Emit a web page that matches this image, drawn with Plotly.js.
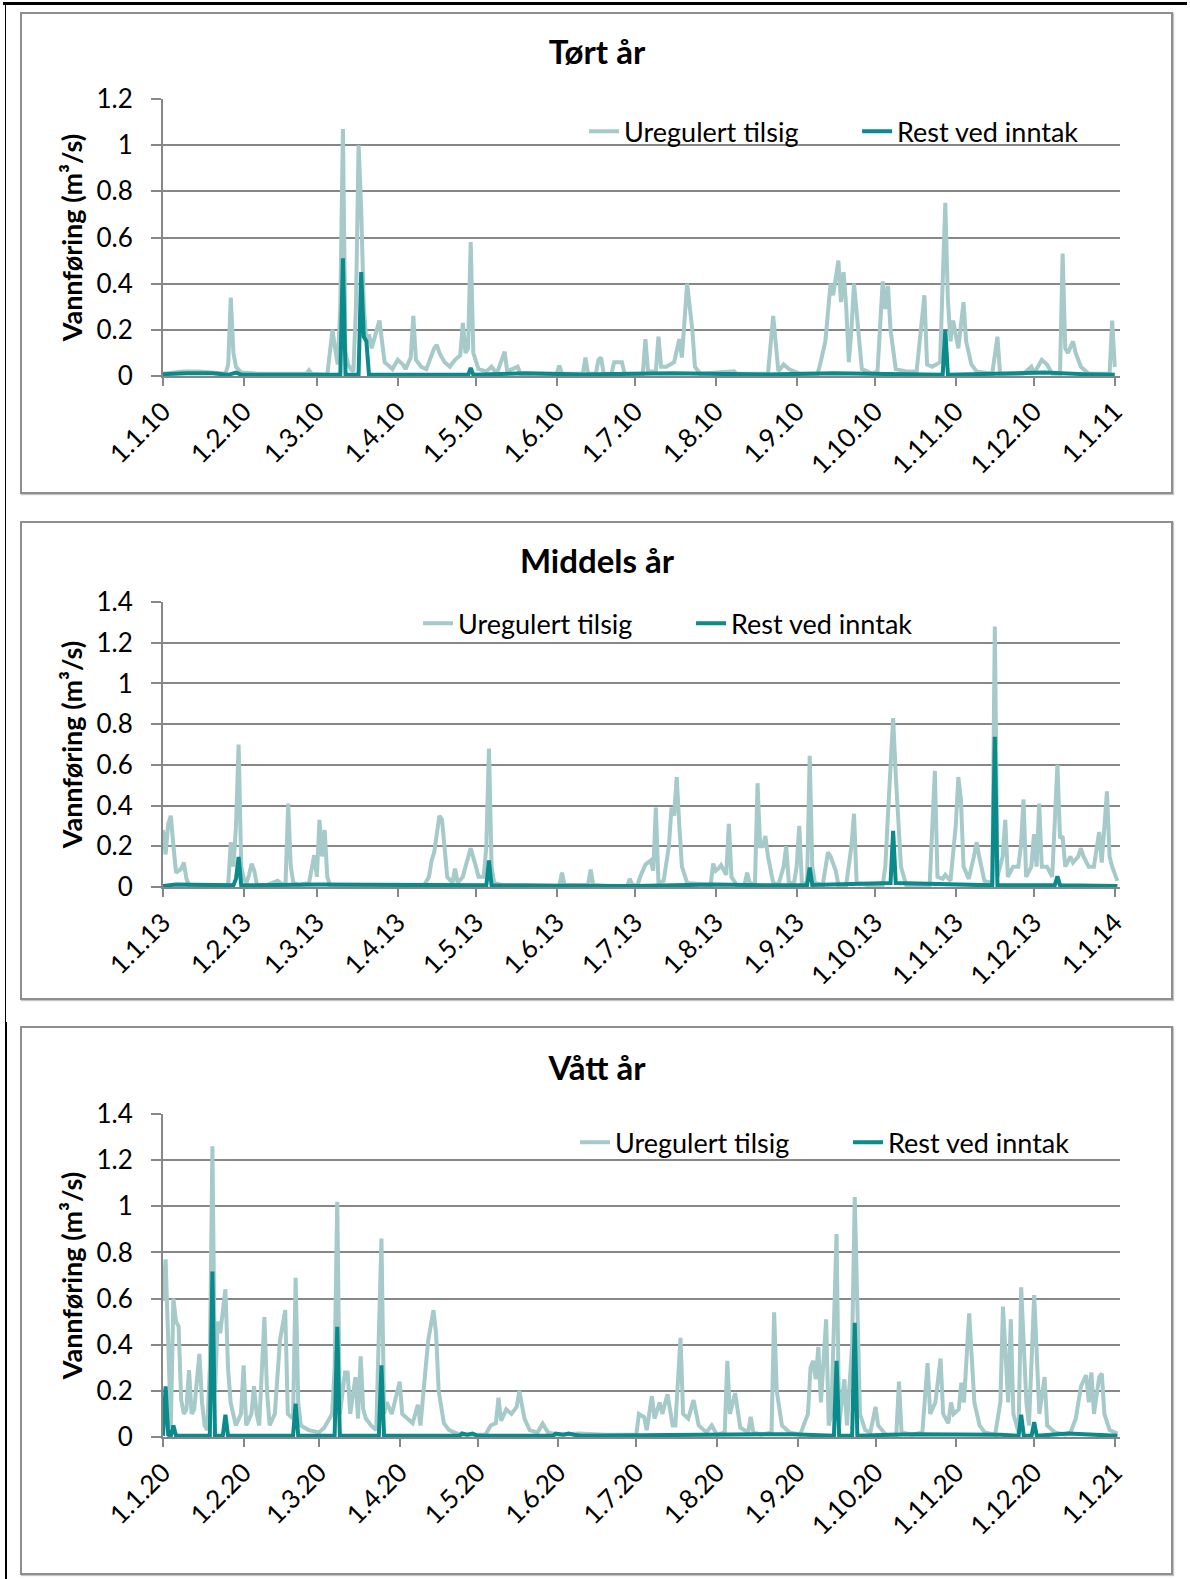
<!DOCTYPE html>
<html><head><meta charset="utf-8">
<script src="https://cdn.plot.ly/plotly-3.0.1.min.js"></script>
<style>
body{margin:0;background:#fff;width:1190px;height:1579px;position:relative;overflow:hidden;}
.box{position:absolute;left:20px;width:1149px;border:2px solid #8e8e8e;box-shadow:1px 1px 1px #c4c4c4;}
.plot{position:absolute;left:0;width:1190px;}
.rule{position:absolute;background:#000;}
</style></head><body>
<div class="rule" style="left:3px;top:2px;width:1184px;height:3px"></div>
<div class="rule" style="left:5px;top:2px;width:1px;height:1020px"></div>
<div class="rule" style="left:5px;top:1022px;width:2px;height:557px"></div>
<div class="box" style="top:12px;height:478px"></div>
<div class="box" style="top:521px;height:475px"></div>
<div class="box" style="top:1026px;height:545px"></div>
<div id="p1" class="plot" style="top:12px;height:482px"></div>
<div id="p2" class="plot" style="top:521px;height:479px"></div>
<div id="p3" class="plot" style="top:1026px;height:549px"></div>
<script>
// ---------- Tørt år (2010) ----------
const dryInflowDates = [
 '2010-01-01','2010-01-09','2010-01-15','2010-01-21','2010-01-25','2010-01-26','2010-01-27','2010-01-28','2010-01-29','2010-01-31',
 '2010-02-06','2010-02-15','2010-02-25','2010-02-26','2010-02-27',
 '2010-03-05','2010-03-07','2010-03-08','2010-03-09','2010-03-10','2010-03-11','2010-03-12','2010-03-13','2010-03-14','2010-03-15','2010-03-16','2010-03-17','2010-03-18','2010-03-19','2010-03-20','2010-03-21','2010-03-22','2010-03-24','2010-03-25','2010-03-26','2010-03-27','2010-03-28','2010-03-30',
 '2010-04-01','2010-04-03','2010-04-04','2010-04-06','2010-04-07','2010-04-08','2010-04-10','2010-04-12','2010-04-15','2010-04-16','2010-04-17','2010-04-19','2010-04-21','2010-04-23','2010-04-25','2010-04-26','2010-04-27','2010-04-28','2010-04-29','2010-04-30',
 '2010-05-02','2010-05-05','2010-05-07','2010-05-09','2010-05-12','2010-05-13','2010-05-17','2010-05-18','2010-05-26',
 '2010-06-01','2010-06-02','2010-06-03','2010-06-11','2010-06-12','2010-06-13','2010-06-16','2010-06-17','2010-06-18','2010-06-19','2010-06-22','2010-06-23','2010-06-26','2010-06-27',
 '2010-07-04','2010-07-05','2010-07-06','2010-07-09','2010-07-10','2010-07-11','2010-07-13','2010-07-16','2010-07-18','2010-07-19','2010-07-21','2010-07-23','2010-07-24','2010-07-26',
 '2010-08-08','2010-08-09','2010-08-21','2010-08-23','2010-08-25','2010-08-27','2010-08-29',
 '2010-09-02','2010-09-09','2010-09-10','2010-09-12','2010-09-14','2010-09-15','2010-09-17','2010-09-18','2010-09-19','2010-09-20','2010-09-21','2010-09-22','2010-09-23','2010-09-25','2010-09-26','2010-09-30',
 '2010-10-02','2010-10-04','2010-10-05','2010-10-06','2010-10-07','2010-10-09','2010-10-13','2010-10-17','2010-10-20','2010-10-21','2010-10-23','2010-10-26','2010-10-28','2010-10-29','2010-10-30','2010-10-31',
 '2010-11-02','2010-11-04','2010-11-05','2010-11-07','2010-11-09','2010-11-15','2010-11-17','2010-11-18','2010-11-27','2010-11-30',
 '2010-12-01','2010-12-04','2010-12-06','2010-12-08','2010-12-11','2010-12-12','2010-12-13','2010-12-14','2010-12-16','2010-12-17','2010-12-19','2010-12-22','2010-12-30','2010-12-31',
 '2011-01-01'];
const dryInflow = [
 0.01,0.02,0.02,0.015,0.01,0.05,0.34,0.1,0.04,0.015,
 0.01,0.01,0.01,0.025,0.01,
 0.005,0.2,0.12,0.05,0.3,1.07,0.1,0.05,0.03,0.02,0.3,1.0,0.72,0.3,0.15,0.18,0.12,0.2,0.24,0.15,0.06,0.05,0.03,
 0.07,0.05,0.03,0.08,0.26,0.07,0.04,0.03,0.12,0.135,0.1,0.06,0.04,0.07,0.09,0.23,0.1,0.12,0.58,0.1,
 0.03,0.02,0.04,0.01,0.105,0.02,0.04,0.01,0.01,
 0.01,0.045,0.01,0.01,0.08,0.01,0.01,0.07,0.08,0.01,0.01,0.06,0.06,0.01,
 0.01,0.16,0.02,0.02,0.17,0.04,0.04,0.06,0.16,0.08,0.4,0.2,0.04,0.01,
 0.02,0.01,0.01,0.26,0.02,0.05,0.03,
 0.01,0.01,0.05,0.15,0.4,0.35,0.5,0.32,0.45,0.3,0.06,0.2,0.4,0.15,0.03,0.01,
 0.02,0.41,0.29,0.39,0.2,0.03,0.02,0.02,0.35,0.05,0.04,0.06,0.75,0.33,0.15,0.24,
 0.12,0.32,0.15,0.05,0.02,0.01,0.17,0.01,0.01,0.04,
 0.01,0.07,0.05,0.01,0.01,0.53,0.12,0.1,0.15,0.1,0.04,0.01,0.01,0.24,
 0.04];
const dryRestDates = ['2010-01-01','2010-01-10','2010-01-20','2010-01-26','2010-01-29','2010-01-31','2010-03-10','2010-03-11','2010-03-12','2010-03-17','2010-03-18','2010-03-19','2010-03-20','2010-03-21','2010-04-28','2010-04-29','2010-04-30','2010-05-20','2010-06-10','2010-07-15','2010-08-20','2010-09-15','2010-10-27','2010-10-28','2010-10-29','2010-11-20','2010-12-05','2010-12-20','2011-01-01'];
const dryRest = [0.008,0.012,0.012,0.005,0.015,0.006,0.005,0.51,0.005,0.005,0.45,0.17,0.15,0.005,0.005,0.035,0.005,0.012,0.006,0.012,0.006,0.012,0.005,0.2,0.005,0.012,0.015,0.008,0.005];
const dryTickDates = ['2010-01-01','2010-02-01','2010-03-01','2010-04-01','2010-05-01','2010-06-01','2010-07-01','2010-08-01','2010-09-01','2010-10-01','2010-11-01','2010-12-01','2011-01-01'];
const dryTickLabels = ['1.1.10','1.2.10','1.3.10','1.4.10','1.5.10','1.6.10','1.7.10','1.8.10','1.9.10','1.10.10','1.11.10','1.12.10','1.1.11'];

// ---------- Middels år (2013) ----------
const midInflowDates = [
 '2013-01-01','2013-01-02','2013-01-03','2013-01-04','2013-01-05','2013-01-06','2013-01-07','2013-01-08','2013-01-09','2013-01-10','2013-01-11','2013-01-21','2013-01-26','2013-01-27','2013-01-28','2013-01-29','2013-01-30','2013-01-31',
 '2013-02-01','2013-02-02','2013-02-03','2013-02-04','2013-02-05','2013-02-06','2013-02-10','2013-02-14','2013-02-16','2013-02-17','2013-02-18','2013-02-19','2013-02-20','2013-02-22','2013-02-26','2013-02-27','2013-02-28',
 '2013-03-01','2013-03-02','2013-03-03','2013-03-04','2013-03-05','2013-03-06','2013-03-22',
 '2013-04-11','2013-04-13','2013-04-14','2013-04-15','2013-04-17','2013-04-18','2013-04-19','2013-04-20','2013-04-22','2013-04-23','2013-04-24','2013-04-26','2013-04-27','2013-04-29',
 '2013-05-01','2013-05-02','2013-05-04','2013-05-05','2013-05-06','2013-05-07','2013-05-08','2013-05-11','2013-05-21',
 '2013-06-02','2013-06-03','2013-06-04','2013-06-10','2013-06-13','2013-06-14','2013-06-15','2013-06-20','2013-06-28','2013-06-29','2013-06-30',
 '2013-07-02','2013-07-03','2013-07-05','2013-07-07','2013-07-08','2013-07-09','2013-07-10','2013-07-12','2013-07-14','2013-07-15','2013-07-16','2013-07-17','2013-07-18','2013-07-19','2013-07-21','2013-07-30','2013-07-31',
 '2013-08-01','2013-08-02','2013-08-03','2013-08-05','2013-08-06','2013-08-07','2013-08-09','2013-08-12','2013-08-13','2013-08-14','2013-08-16','2013-08-17','2013-08-18','2013-08-19','2013-08-20','2013-08-21','2013-08-23','2013-08-25','2013-08-27','2013-08-28','2013-08-29','2013-08-31',
 '2013-09-01','2013-09-02','2013-09-03','2013-09-05','2013-09-06','2013-09-07','2013-09-08','2013-09-11','2013-09-13','2013-09-14','2013-09-15','2013-09-16','2013-09-17','2013-09-20','2013-09-22','2013-09-23','2013-09-24','2013-09-28',
 '2013-10-04','2013-10-05','2013-10-06','2013-10-07','2013-10-08','2013-10-09','2013-10-10','2013-10-11','2013-10-13','2013-10-22','2013-10-24','2013-10-25','2013-10-27','2013-10-28','2013-10-30',
 '2013-11-01','2013-11-02','2013-11-03','2013-11-04','2013-11-06','2013-11-08','2013-11-09','2013-11-10','2013-11-12','2013-11-15','2013-11-16','2013-11-17','2013-11-19','2013-11-20','2013-11-21','2013-11-23','2013-11-25','2013-11-26','2013-11-27','2013-11-28','2013-11-30',
 '2013-12-01','2013-12-02','2013-12-03','2013-12-04','2013-12-06','2013-12-08','2013-12-10','2013-12-11','2013-12-12','2013-12-13','2013-12-15','2013-12-16','2013-12-18','2013-12-19','2013-12-20','2013-12-22','2013-12-24','2013-12-26','2013-12-27','2013-12-28','2013-12-29','2013-12-30','2013-12-31',
 '2014-01-02'];
const midInflow = [
 0.28,0.16,0.31,0.35,0.2,0.07,0.08,0.09,0.12,0.04,0.01,0.005,0.01,0.22,0.1,0.3,0.7,0.1,
 0.04,0.02,0.06,0.115,0.08,0.01,0.01,0.03,0.01,0.02,0.41,0.1,0.02,0.01,0.02,0.1,0.156,
 0.05,0.33,0.15,0.28,0.05,0.01,0.005,
 0.005,0.05,0.13,0.17,0.35,0.33,0.2,0.05,0.02,0.09,0.02,0.05,0.1,0.19,
 0.1,0.05,0.05,0.2,0.68,0.1,0.02,0.01,0.01,
 0.005,0.07,0.01,0.01,0.01,0.085,0.01,0.005,0.005,0.04,0.01,
 0.01,0.05,0.11,0.13,0.08,0.39,0.02,0.03,0.2,0.39,0.35,0.54,0.3,0.1,0.02,0.01,0.115,
 0.08,0.09,0.107,0.06,0.31,0.05,0.01,0.01,0.07,0.02,0.01,0.51,0.2,0.2,0.25,0.15,0.02,0.01,0.1,0.2,0.02,0.02,
 0.1,0.3,0.02,0.02,0.645,0.1,0.02,0.01,0.17,0.15,0.12,0.08,0.01,0.01,0.2,0.36,0.02,0.01,
 0.01,0.1,0.35,0.6,0.83,0.55,0.3,0.1,0.01,0.01,0.57,0.05,0.04,0.06,0.03,
 0.3,0.54,0.43,0.1,0.04,0.15,0.22,0.15,0.03,0.02,1.28,0.05,0.15,0.33,0.05,0.1,0.1,0.2,0.43,0.05,0.1,
 0.26,0.1,0.41,0.1,0.1,0.05,0.6,0.24,0.25,0.1,0.15,0.12,0.15,0.19,0.15,0.1,0.1,0.27,0.12,0.27,0.47,0.15,0.1,
 0.03];
const midRestDates = ['2013-01-01','2013-01-06','2013-01-28','2013-01-29','2013-01-30','2013-01-31','2013-03-02','2013-04-01','2013-05-05','2013-05-06','2013-05-07','2013-07-01','2013-07-31','2013-08-25','2013-09-05','2013-09-06','2013-09-07','2013-10-07','2013-10-08','2013-10-09','2013-10-24','2013-11-15','2013-11-16','2013-11-17','2013-12-09','2013-12-10','2013-12-11','2014-01-02'];
const midRest = [0.005,0.012,0.008,0.04,0.148,0.008,0.012,0.012,0.008,0.13,0.008,0.005,0.012,0.008,0.01,0.095,0.01,0.02,0.276,0.02,0.015,0.008,0.738,0.008,0.01,0.052,0.008,0.005];
const midTickDates = ['2013-01-01','2013-02-01','2013-03-01','2013-04-01','2013-05-01','2013-06-01','2013-07-01','2013-08-01','2013-09-01','2013-10-01','2013-11-01','2013-12-01','2014-01-01'];
const midTickLabels = ['1.1.13','1.2.13','1.3.13','1.4.13','1.5.13','1.6.13','1.7.13','1.8.13','1.9.13','1.10.13','1.11.13','1.12.13','1.1.14'];

// ---------- Vått år (2020) ----------
const wetInflowDates = [
 '2020-01-01','2020-01-02','2020-01-03','2020-01-04','2020-01-05','2020-01-06','2020-01-07','2020-01-08','2020-01-09','2020-01-10','2020-01-11','2020-01-12','2020-01-13','2020-01-15','2020-01-16','2020-01-17','2020-01-18','2020-01-19','2020-01-20','2020-01-21','2020-01-22','2020-01-23','2020-01-25','2020-01-26','2020-01-27','2020-01-29','2020-01-31',
 '2020-02-01','2020-02-02','2020-02-04','2020-02-05','2020-02-06','2020-02-07','2020-02-09','2020-02-10','2020-02-11','2020-02-13','2020-02-15','2020-02-17','2020-02-18','2020-02-20','2020-02-21','2020-02-22','2020-02-23','2020-02-26',
 '2020-03-01','2020-03-03','2020-03-05','2020-03-06','2020-03-07','2020-03-08','2020-03-09','2020-03-11','2020-03-12','2020-03-13','2020-03-15','2020-03-16','2020-03-17','2020-03-18','2020-03-19','2020-03-21','2020-03-23','2020-03-25','2020-03-26','2020-03-27','2020-03-29',
 '2020-04-01','2020-04-02','2020-04-04','2020-04-06','2020-04-08','2020-04-09','2020-04-11','2020-04-12','2020-04-14','2020-04-15','2020-04-16','2020-04-18','2020-04-20','2020-04-24',
 '2020-05-04','2020-05-06','2020-05-08','2020-05-09','2020-05-10','2020-05-12','2020-05-14','2020-05-16','2020-05-17','2020-05-19','2020-05-21','2020-05-24','2020-05-26','2020-05-28',
 '2020-06-01','2020-06-09','2020-06-19',
 '2020-07-01','2020-07-02','2020-07-04','2020-07-05','2020-07-07','2020-07-08','2020-07-10','2020-07-11','2020-07-13','2020-07-15','2020-07-16','2020-07-18','2020-07-19','2020-07-21','2020-07-23','2020-07-25','2020-07-28','2020-07-30',
 '2020-08-01','2020-08-04','2020-08-05','2020-08-06','2020-08-08','2020-08-10','2020-08-13','2020-08-14','2020-08-15','2020-08-18','2020-08-22','2020-08-23','2020-08-24','2020-08-26','2020-08-29',
 '2020-09-02','2020-09-05','2020-09-06','2020-09-07','2020-09-08','2020-09-09','2020-09-10','2020-09-12','2020-09-13','2020-09-14','2020-09-16','2020-09-17','2020-09-19','2020-09-20','2020-09-22','2020-09-23','2020-09-25','2020-09-27','2020-09-29',
 '2020-10-01','2020-10-02','2020-10-05','2020-10-09','2020-10-10','2020-10-11','2020-10-15','2020-10-19','2020-10-21','2020-10-22','2020-10-24','2020-10-26','2020-10-27','2020-10-29','2020-10-30','2020-10-31',
 '2020-11-02','2020-11-03','2020-11-04','2020-11-06','2020-11-08','2020-11-10','2020-11-12','2020-11-16','2020-11-18','2020-11-19','2020-11-21','2020-11-22','2020-11-23','2020-11-25','2020-11-26','2020-11-28','2020-11-29',
 '2020-12-01','2020-12-03','2020-12-05','2020-12-06','2020-12-09','2020-12-13','2020-12-15','2020-12-17','2020-12-19','2020-12-21','2020-12-22','2020-12-23','2020-12-24','2020-12-26','2020-12-27','2020-12-28','2020-12-30',
 '2021-01-02'];
const wetInflow = [
 0.59,0.77,0.42,0.04,0.6,0.5,0.48,0.16,0.1,0.12,0.29,0.1,0.12,0.36,0.15,0.05,0.03,0.3,1.26,0.2,0.5,0.45,0.64,0.3,0.15,0.05,0.1,
 0.31,0.05,0.1,0.22,0.1,0.05,0.52,0.2,0.05,0.1,0.42,0.55,0.1,0.08,0.69,0.15,0.05,0.03,
 0.02,0.04,0.08,0.1,0.3,1.02,0.1,0.28,0.28,0.1,0.26,0.08,0.35,0.12,0.08,0.05,0.03,0.86,0.1,0.15,0.1,
 0.24,0.1,0.08,0.06,0.14,0.05,0.3,0.42,0.55,0.45,0.2,0.06,0.03,0.01,
 0.01,0.05,0.06,0.17,0.07,0.12,0.1,0.13,0.2,0.08,0.03,0.02,0.058,0.02,
 0.01,0.015,0.01,
 0.01,0.1,0.087,0.03,0.177,0.08,0.15,0.1,0.185,0.05,0.05,0.43,0.1,0.08,0.16,0.05,0.02,0.05,
 0.01,0.02,0.33,0.1,0.19,0.04,0.02,0.087,0.02,0.01,0.02,0.54,0.2,0.05,0.02,
 0.01,0.1,0.3,0.33,0.25,0.39,0.15,0.51,0.05,0.1,0.88,0.05,0.25,0.05,0.4,1.04,0.1,0.03,0.02,
 0.13,0.05,0.01,0.01,0.24,0.02,0.01,0.02,0.32,0.1,0.15,0.34,0.1,0.06,0.15,0.1,
 0.12,0.235,0.15,0.536,0.15,0.05,0.02,0.01,0.15,0.565,0.15,0.51,0.1,0.02,0.649,0.15,0.05,
 0.615,0.1,0.26,0.05,0.02,0.01,0.02,0.08,0.22,0.268,0.15,0.28,0.1,0.26,0.275,0.1,0.03,
 0.015];
const wetRestDates = ['2020-01-01','2020-01-02','2020-01-03','2020-01-04','2020-01-05','2020-01-06','2020-01-19','2020-01-20','2020-01-21','2020-01-24','2020-01-25','2020-01-26','2020-02-20','2020-02-21','2020-02-22','2020-03-07','2020-03-08','2020-03-09','2020-03-24','2020-03-25','2020-03-26','2020-04-24','2020-04-25','2020-04-27','2020-04-29','2020-05-01','2020-05-30','2020-05-31','2020-06-03','2020-06-05','2020-06-07','2020-06-10','2020-08-18','2020-08-30','2020-09-15','2020-09-16','2020-09-17','2020-09-22','2020-09-23','2020-09-24','2020-10-07','2020-10-16','2020-11-18','2020-11-25','2020-11-26','2020-11-27','2020-11-30','2020-12-01','2020-12-02','2020-12-14','2021-01-02'];
const wetRest = [0.005,0.22,0.01,0.005,0.05,0.005,0.005,0.717,0.005,0.005,0.097,0.005,0.005,0.145,0.005,0.005,0.478,0.005,0.005,0.311,0.005,0.005,0.015,0.01,0.015,0.005,0.005,0.015,0.01,0.015,0.01,0.005,0.012,0.012,0.005,0.33,0.005,0.005,0.495,0.005,0.01,0.012,0.01,0.005,0.097,0.005,0.005,0.065,0.005,0.015,0.005];
const wetTickDates = ['2020-01-01','2020-02-01','2020-03-01','2020-04-01','2020-05-01','2020-06-01','2020-07-01','2020-08-01','2020-09-01','2020-10-01','2020-11-01','2020-12-01','2021-01-01'];
const wetTickLabels = ['1.1.20','1.2.20','1.3.20','1.4.20','1.5.20','1.6.20','1.7.20','1.8.20','1.9.20','1.10.20','1.11.20','1.12.20','1.1.21'];

const seriesNames = ['Uregulert tilsig','Rest ved inntak'];
const yTitle = 'Vannføring (m³/s)';

const LIGHT = '#a6c9c9', DARK = '#0a8a8a', GRID = '#878787';
const FONT = 'Lato, "Open Sans", sans-serif';

function drawPanel(id, c) {
  const traces = [
    {type:'scatter', mode:'lines', name:seriesNames[0], x:c.inX, y:c.inY, line:{color:LIGHT, width:4}},
    {type:'scatter', mode:'lines', name:seriesNames[1], x:c.reX, y:c.reY, line:{color:DARK, width:4}}
  ];
  const layout = {
    width:1190, height:c.h,
    margin:{l:163, r:70, t:c.t, b:c.b, pad:0},
    paper_bgcolor:'rgba(0,0,0,0)', plot_bgcolor:'rgba(0,0,0,0)',
    font:{family:FONT, color:'#262626'},
    title:{text:c.title, font:{family:FONT, size:33, color:'#000', weight:'bold'}, xref:'container', x:0.5017, yref:'container', y:c.titleY, yanchor:'middle'},
    showlegend:true,
    legend:{orientation:'h', x:c.legX, y:c.legY, xanchor:'left', yanchor:'middle', bgcolor:'rgba(0,0,0,0)', font:{size:27, color:'#000', family:FONT}, entrywidth:228, entrywidthmode:'pixels', traceorder:'normal'},
    xaxis:{type:'date', range:c.xr, tickvals:c.tv, ticktext:c.tt, tickangle:-45, ticks:'outside', ticklen:8, tickwidth:2, tickcolor:GRID,
      showgrid:false, showline:true, linecolor:GRID, linewidth:2, zeroline:false, automargin:false,
      tickfont:{family:FONT, size:26, color:'#000'}},
    yaxis:{range:[0, c.ymax], dtick:0.2, tick0:0, ticks:'outside', ticklen:10, tickwidth:2, tickcolor:GRID,
      showgrid:true, gridcolor:GRID, gridwidth:2, showline:true, linecolor:GRID, linewidth:2, zeroline:false, automargin:false,
      ticklabelstandoff:13,
      tickfont:{family:FONT, size:26, color:'#000'},
      title:{text:yTitle, standoff:6, font:{family:FONT, size:27, color:'#000', weight:'bold'}}}
  };
  Plotly.newPlot(id, traces, layout, {staticPlot:true, displayModeBar:false});
}

drawPanel('p1', {inX:dryInflowDates, inY:dryInflow, reX:dryRestDates, reY:dryRest, title:'Tørt år', h:482, t:87, b:118, titleY:1-40/482,
  legX:0.44, legY:0.882, xr:['2010-01-01','2011-01-03'], tv:dryTickDates, tt:dryTickLabels, ymax:1.2});
drawPanel('p2', {inX:midInflowDates, inY:midInflow, reX:midRestDates, reY:midRest, title:'Middels år', h:479, t:81, b:113, titleY:1-40/479,
  legX:0.2665, legY:0.924, xr:['2013-01-01','2014-01-03'], tv:midTickDates, tt:midTickLabels, ymax:1.4});
drawPanel('p3', {inX:wetInflowDates, inY:wetInflow, reX:wetRestDates, reY:wetRest, title:'Vått år', h:549, t:88, b:138, titleY:1-42/549,
  legX:0.4305, legY:0.911, xr:['2020-01-01','2021-01-03'], tv:wetTickDates, tt:wetTickLabels, ymax:1.4});
</script>
</body></html>
